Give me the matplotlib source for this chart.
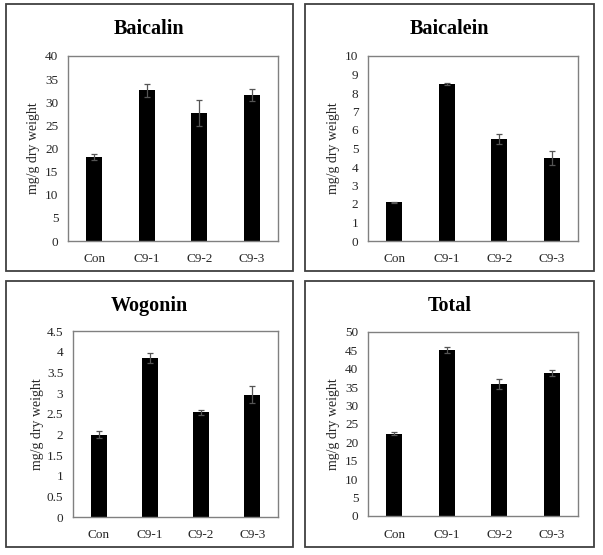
import matplotlib.pyplot as plt
from matplotlib.patches import Rectangle

plt.rcParams['font.family'] = ['Liberation Serif', 'DejaVu Serif']

groups = ["Con", "C9-1", "C9-2", "C9-3"]

baicalin = [18.2, 32.6, 27.6, 31.5]
baicalin_err = [0.6, 1.4, 2.8, 1.3]
baicalein = [2.09, 8.5, 5.53, 4.49]
baicalein_err = [0.03, 0.05, 0.27, 0.39]
wogonin = [1.99, 3.84, 2.53, 2.96]
wogonin_err = [0.09, 0.12, 0.06, 0.21]
total = [22.4, 45.0, 35.8, 38.9]
total_err = [0.5, 0.8, 1.4, 0.8]

W, H = 603, 555
fig = plt.figure(figsize=(W / 100, H / 100), dpi=100)

# (title, values, errors, ymax, ystep, box px, axes px)
panels = [
    ("Baicalin", baicalin, baicalin_err, 40, 5, (6, 4, 293, 271), (68, 56, 278, 241)),
    ("Baicalein", baicalein, baicalein_err, 10, 1, (305, 4, 594, 271), (368, 56, 578, 241)),
    ("Wogonin", wogonin, wogonin_err, 4.5, 0.5, (6, 281, 293, 547), (73, 331, 278, 517)),
    ("Total", total, total_err, 50, 5, (305, 281, 594, 547), (368, 332, 578, 516)),
]


def fx(px):
    return px / W


def fy(py):
    return 1 - py / H


for title, vals, errs, ymax, ystep, box, area in panels:
    bx0, by0, bx1, by1 = box
    fig.patches.append(Rectangle((fx(bx0), fy(by1)), fx(bx1 - bx0), (by1 - by0) / H,
                                 transform=fig.transFigure, fill=False,
                                 edgecolor='#404040', linewidth=1.3))
    ax0, ay0, ax1, ay1 = area
    ax = fig.add_axes([fx(ax0), fy(ay1), fx(ax1 - ax0), (ay1 - ay0) / H])
    x = range(len(groups))
    ax.bar(x, vals, width=0.31, color='black', zorder=2)
    ax.errorbar(x, vals, yerr=errs, fmt='none', ecolor='#555555',
                elinewidth=0.9, capsize=2.5, capthick=0.9, zorder=3)
    ax.set_xlim(-0.5, len(groups) - 0.5)
    ax.set_ylim(0, ymax)
    ticks = [i * ystep for i in range(int(round(ymax / ystep)) + 1)]
    ax.set_yticks(ticks)
    ax.set_yticklabels([f"{t:g}" for t in ticks])
    ax.set_xticks(list(x))
    ax.set_xticklabels(groups)
    ax.tick_params(axis='both', length=0, labelsize=9.5, colors='#262626')
    ax.tick_params(axis='y', pad=7)
    ax.tick_params(axis='x', pad=9)
    for s in ax.spines.values():
        s.set_color('#808080')
        s.set_linewidth(1.0)
    fig.text(fx((bx0 + bx1) / 2), fy(by0 + 25), title, ha='center', va='center',
             fontsize=14.5, fontweight='bold')
    fig.text(fx(ax0 - 35), fy((ay0 + ay1) / 2), "mg/g dry weight", rotation=90,
             ha='center', va='center', fontsize=10, color='#262626')

fig.savefig("out.png", dpi=100)
